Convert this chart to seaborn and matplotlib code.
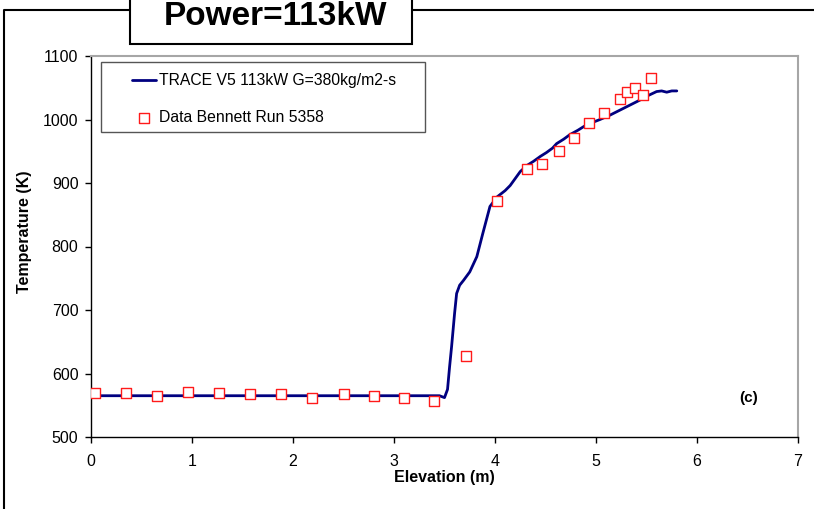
import matplotlib
matplotlib.use("Agg")
import matplotlib.pyplot as plt
import matplotlib.patches as mpatches
from matplotlib.lines import Line2D
import seaborn as sns
import pandas as pd

# ---- data ----
model_elev = [0.0, 0.5, 1.0, 1.5, 2.0, 2.5, 3.0, 3.3, 3.45, 3.50, 3.53, 3.55, 3.57,
              3.60, 3.62, 3.65, 3.69, 3.75, 3.82, 3.88, 3.95, 4.02, 4.10, 4.15, 4.25,
              4.32, 4.38, 4.45, 4.51, 4.57, 4.61, 4.68, 4.74, 4.82, 4.91, 5.04, 5.14,
              5.24, 5.34, 5.44, 5.52, 5.60, 5.65, 5.70, 5.75, 5.80]
model_temp = [565, 565, 565, 565, 565, 565, 565, 565, 565, 562, 575, 610, 642,
              695, 726, 739, 747, 760, 784, 821, 863, 878, 888, 896, 918,
              928, 934, 942, 948, 955, 962, 969, 976, 983, 992, 1000, 1007,
              1015, 1023, 1031, 1038, 1044, 1045, 1043, 1045, 1045]

data_elev = [0.04, 0.35, 0.65, 0.96, 1.27, 1.57, 1.88, 2.19, 2.50, 2.80, 3.10, 3.40,
             3.71, 4.02, 4.32, 4.47, 4.63, 4.78, 4.93, 5.08, 5.24, 5.31, 5.39, 5.47, 5.54]
data_temp = [569, 569, 565, 571, 569, 568, 567, 561, 568, 564, 562, 556,
             627, 871, 922, 930, 950, 971, 994, 1011, 1032, 1043, 1050, 1039, 1066]

line_label = "TRACE V5 113kW G=380kg/m2-s"
data_label = "Data Bennett Run 5358"
title_text = "Power=113kW"
x_ticks = [0, 1, 2, 3, 4, 5, 6, 7]
y_ticks = [500, 600, 700, 800, 900, 1000, 1100]

model_df = pd.DataFrame({"Elevation": model_elev, "Temperature": model_temp})
data_df = pd.DataFrame({"Elevation": data_elev, "Temperature": data_temp})

sns.set_style("white")
plt.rcParams["font.family"] = ["Liberation Sans", "DejaVu Sans"]
plt.rcParams["text.color"] = "black"
plt.rcParams["axes.labelcolor"] = "black"
plt.rcParams["xtick.color"] = "black"
plt.rcParams["ytick.color"] = "black"

W, H = 814, 509
fig = plt.figure(figsize=(W / 100, H / 100), dpi=100)
ax = fig.add_axes([91 / W, 1 - 437 / H, 707 / W, 381 / H])

sns.lineplot(data=model_df, x="Elevation", y="Temperature", ax=ax,
             color="#000080", linewidth=2.0, label=line_label, sort=False, zorder=2)
sns.scatterplot(data=data_df, x="Elevation", y="Temperature", ax=ax,
                marker="s", s=48, facecolor="white", edgecolor="#ff1a1a",
                linewidth=1.0, label=data_label, zorder=3)

ax.set_xlim(0, 7)
ax.set_ylim(500, 1100)
ax.set_xticks(x_ticks)
ax.set_yticks(y_ticks)
ax.tick_params(axis="both", direction="out", length=4, width=1, color="black",
               labelcolor="black", labelsize=11.5, bottom=True, left=True)
ax.tick_params(axis="x", pad=8)
ax.tick_params(axis="y", pad=5)

for s in ["left", "bottom"]:
    ax.spines[s].set_color("black")
    ax.spines[s].set_linewidth(1.0)
for s in ["top", "right"]:
    ax.spines[s].set_color("#a6a6a6")
    ax.spines[s].set_linewidth(1.5)

ax.set_xlabel("Elevation (m)", fontsize=11.5, fontweight="bold", va="center",
              color="black")
ax.xaxis.set_label_coords(0.5, -0.105)
ax.set_ylabel("Temperature (K)", fontsize=11.5, fontweight="bold", va="center",
              color="black")
ax.yaxis.set_label_coords(-0.0934, 0.54)

ax.text(6.42, 561, "(c)", fontsize=11, fontweight="bold", ha="left", va="center",
        color="black")

# legend (frame drawn separately)
frame = mpatches.Rectangle((101 / W, 1 - 132 / H), 324 / W, 70 / H,
                           transform=fig.transFigure, facecolor="white",
                           edgecolor="#555555", linewidth=1.0, zorder=4,
                           clip_on=False)
ax.add_artist(frame)
leg = ax.legend(loc="upper left", bbox_to_anchor=(132 / W, 1 - 73 / H),
                bbox_transform=fig.transFigure, frameon=False, fontsize=11.3,
                borderpad=0, borderaxespad=0, handlelength=1.5,
                handletextpad=0.25, labelspacing=1.42, markerscale=1.0)
for t in leg.get_texts():
    t.set_color("black")
leg.set_zorder(5)

# title box and outer frame
fig.add_artist(mpatches.Rectangle((130 / W, 1 - 44 / H), 282 / W, 0.2,
                                  transform=fig.transFigure, facecolor="white",
                                  edgecolor="black", linewidth=1.5, clip_on=False))
fig.add_artist(Line2D([4 / W, 4 / W, 130 / W], [0, 1 - 10 / H, 1 - 10 / H],
                      transform=fig.transFigure, color="black", linewidth=1.5))
fig.add_artist(Line2D([412 / W, 1], [1 - 10 / H, 1 - 10 / H],
                      transform=fig.transFigure, color="black", linewidth=1.5))
fig.text(276 / W, 1 - 25 / H, title_text, ha="center", va="baseline",
         fontsize=24, fontweight="bold", color="black")

fig.savefig("out.png", dpi=100)
